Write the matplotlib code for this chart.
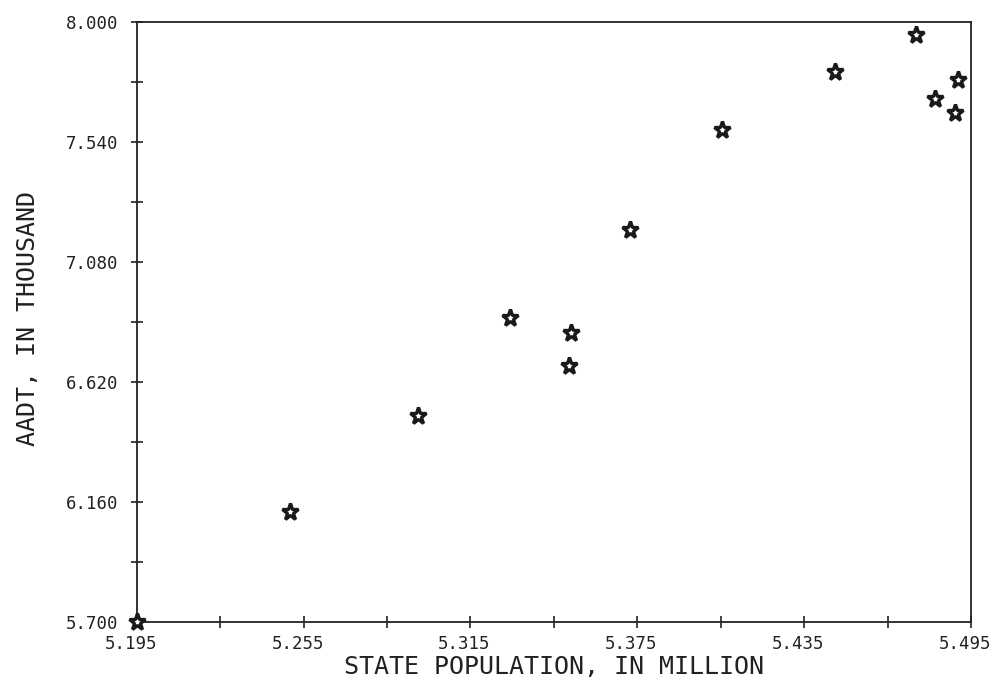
import matplotlib
matplotlib.use("Agg")
import matplotlib.pyplot as plt
import matplotlib.transforms as mtransforms
import numpy as np
from matplotlib.ticker import FixedLocator, FuncFormatter

population = [5.195, 5.2502, 5.2962, 5.3292, 5.3513, 5.3504, 5.3723, 5.4054,
              5.4461, 5.4753, 5.4821, 5.4904, 5.4893]
aadt = [5.700, 6.123, 6.490, 6.865, 6.809, 6.681, 7.2025, 7.586,
        7.808, 7.950, 7.705, 7.777, 7.651]

x_major = [5.195, 5.255, 5.315, 5.375, 5.435, 5.495]
x_minor = [5.225, 5.285, 5.345, 5.405, 5.465]
y_major = [5.700, 6.160, 6.620, 7.080, 7.540, 8.000]
y_minor = [5.930, 6.390, 6.850, 7.310, 7.770]

plt.rcParams['font.family'] = ['DejaVu Sans Mono', 'DejaVu Sans']
fig = plt.figure(figsize=(9.93, 6.86), dpi=100)
ax = fig.add_axes([0.1377, 0.0933, 0.8402, 0.875])

ax.plot(population, aadt, linestyle='none', marker='*', markersize=12.5,
        markerfacecolor='white', markeredgecolor='#1a1a1a', markeredgewidth=2.4,
        clip_on=False, zorder=5)

ax.set_xlim(5.195, 5.495)
ax.set_ylim(5.700, 8.000)
ax.xaxis.set_major_locator(FixedLocator(x_major))
ax.xaxis.set_minor_locator(FixedLocator(x_minor))
ax.yaxis.set_major_locator(FixedLocator(y_major))
ax.yaxis.set_minor_locator(FixedLocator(y_minor))
ax.xaxis.set_major_formatter(FuncFormatter(lambda v, p: f"{v:.3f}"))
ax.yaxis.set_major_formatter(FuncFormatter(lambda v, p: f"{v:.3f}"))

ax.tick_params(which='both', direction='inout', length=9, width=1.2,
               color='#222222', labelsize=12.5, labelcolor='#222222')
ax.tick_params(axis='x', pad=5)
ax.tick_params(axis='y', pad=9)
for s in ax.spines.values():
    s.set_linewidth(1.3)
    s.set_color('#222222')

# shift x tick labels slightly left, as in the reference
offset = mtransforms.ScaledTranslation(-6 / 100, 0, fig.dpi_scale_trans)
for lab in ax.get_xticklabels():
    lab.set_transform(lab.get_transform() + offset)

ax.set_xlabel("STATE POPULATION, IN MILLION", fontsize=18, color='#222222')
ax.set_ylabel("AADT, IN THOUSAND", fontsize=18, color='#222222')
ax.xaxis.set_label_coords(0.5, -0.075, transform=ax.transAxes)
ax.yaxis.set_label_coords(-0.1305, 0.505, transform=ax.transAxes)
ax.xaxis.label.set_verticalalignment('center')
ax.yaxis.label.set_verticalalignment('center')

fig.savefig("out.png", dpi=100)
